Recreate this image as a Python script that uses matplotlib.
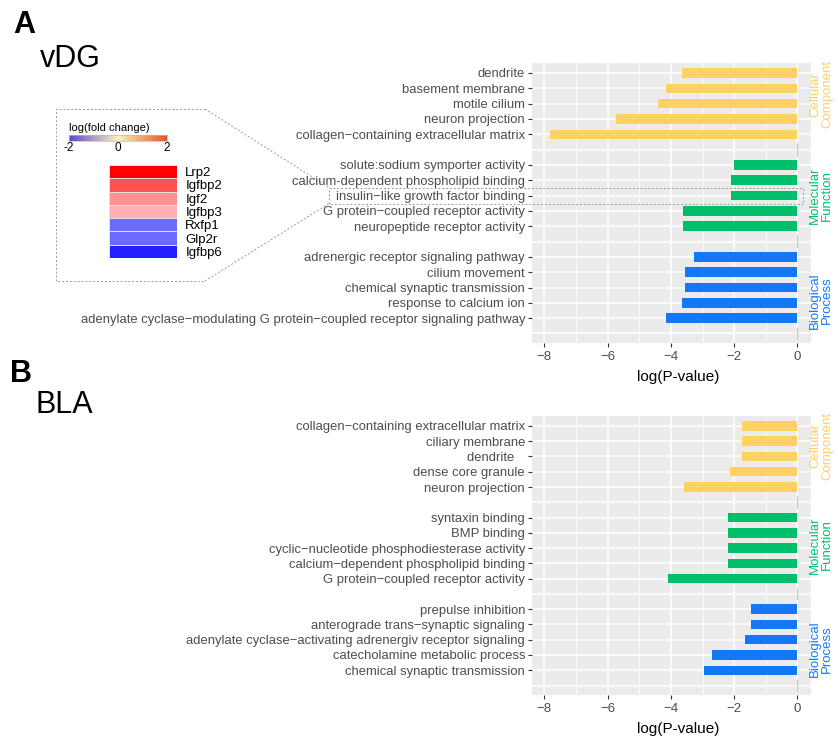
# GO enrichment bars for vDG and BLA, with fold-change inset
import matplotlib.pyplot as plt
import numpy as np
from matplotlib.colors import LinearSegmentedColormap
from matplotlib.lines import Line2D

plt.rcParams['font.family'] = ['Liberation Sans', 'DejaVu Sans']

# data
groups = ["Cellular\nComponent", "Molecular\nFunction", "Biological\nProcess"]
group_colors = ["#FFD062", "#00BF6A", "#1677F6"]

vdg_terms = [
    ["dendrite", "basement membrane", "motile cilium", "neuron projection",
     "collagen\u2212containing extracellular matrix"],
    ["solute:sodium symporter activity", "calcium-dependent phospholipid binding",
     "insulin\u2212like growth factor binding", "G protein\u2212coupled receptor activity",
     "neuropeptide receptor activity"],
    ["adrenergic receptor signaling pathway", "cilium movement",
     "chemical synaptic transmission", "response to calcium ion",
     "adenylate cyclase\u2212modulating G protein\u2212coupled receptor signaling pathway"],
]
vdg_logp = [
    [-3.65, -4.15, -4.40, -5.73, -7.82],
    [-2.00, -2.10, -2.10, -3.61, -3.61],
    [-3.27, -3.55, -3.55, -3.65, -4.15],
]

bla_terms = [
    ["collagen\u2212containing extracellular matrix", "ciliary membrane", "dendrite   ",
     "dense core granule", "neuron projection"],
    ["syntaxin binding", "BMP binding", "cyclic\u2212nucleotide phosphodiesterase activity",
     "calcium\u2212dependent phospholipid binding", "G protein\u2212coupled receptor activity"],
    ["prepulse inhibition", "anterograde trans\u2212synaptic signaling",
     "adenylate cyclase\u2212activating adrenergiv receptor signaling",
     "catecholamine metabolic process", "chemical synaptic transmission"],
]
bla_logp = [
    [-1.75, -1.75, -1.75, -2.13, -3.58],
    [-2.19, -2.19, -2.19, -2.19, -4.09],
    [-1.46, -1.46, -1.65, -2.70, -2.95],
]

genes = ["Lrp2", "Igfbp2", "Igf2", "Igfbp3", "Rxfp1", "Glp2r", "Igfbp6"]
gene_lfc = [2.0, 1.35, 0.87, 0.62, -1.16, -1.16, -1.75]

W, H = 838, 739
fig = plt.figure(figsize=(W / 100, H / 100), dpi=100)


def box(x0, y0, x1, y1):
    # pixel box (top-left origin) -> figure fraction rect
    return [x0 / W, 1 - y1 / H, (x1 - x0) / W, (y1 - y0) / H]


def panel(rect, terms, vals, strip_rows):
    ax = fig.add_axes(rect)
    ax.set_facecolor("#EBEBEB")
    ypos, labels = [], []
    for g in range(3):
        for i in range(5):
            ypos.append(g * 6 + i)
            labels.append(terms[g][i])
            ax.barh(g * 6 + i, vals[g][i], height=0.62, color=group_colors[g], zorder=3)
    blanks = [5, 11, 17]
    ax.vlines([0] * 3, [b - 0.4 for b in blanks], [b + 0.4 for b in blanks],
              color="#C8C8C8", lw=1, zorder=3)
    for r in range(18):
        ax.axhline(r, color="white", lw=1.1, zorder=1)
    for x in [-7, -5, -3, -1]:
        ax.axvline(x, color="white", lw=0.55, zorder=1)
    for x in [-8, -6, -4, -2, 0]:
        ax.axvline(x, color="white", lw=1.1, zorder=1)
    ax.set_xlim(-8.39, 0.43)
    ax.set_ylim(17.62, -0.65)
    ax.set_yticks(ypos)
    ax.set_yticklabels(labels)
    ax.set_xticks([-8, -6, -4, -2, 0])
    ax.tick_params(axis="both", colors="#333333", length=3, width=0.8,
                   labelcolor="#4D4D4D", labelsize=9.4, pad=2)
    ax.tick_params(axis="x", labelsize=9.5, pad=3)
    for s in ax.spines.values():
        s.set_visible(False)
    ax.set_xlabel("log(P-value)", fontsize=11, color="black", labelpad=3)
    ax.xaxis.set_label_coords(0.525, -0.095)
    # facet strip labels on the right
    for g in range(3):
        yy = ax.transData.transform((0, strip_rows[g]))[1]
        fig.text(821 / W, yy / fig.bbox.height, groups[g], rotation=90,
                 ha="center", va="center", multialignment="center",
                 color=group_colors[g], fontsize=9.5, linespacing=1.0)
    return ax


axA = panel(box(532, 63, 811, 343), vdg_terms, vdg_logp, [1.4, 8.0, 14.85])
axB = panel(box(532, 416, 811, 695), bla_terms, bla_logp, [1.3, 7.8, 14.6])

# panel titles
fig.text(13 / W, 1 - 33 / H, "A", fontsize=22, fontweight="bold", va="baseline")
fig.text(40 / W, 1 - 67 / H, "vDG", fontsize=22, va="baseline")
fig.text(10 / W, 1 - 382 / H, "B", fontsize=22, fontweight="bold", va="baseline")
fig.text(36 / W, 1 - 413 / H, "BLA", fontsize=22, va="baseline")

# colour bar legend
fc_cmap = LinearSegmentedColormap.from_list("fc", ["#6346C7", "#F9F3BC", "#E4572A"])
cax = fig.add_axes(box(69, 135, 167, 141))
cax.imshow(np.linspace(-2, 2, 200)[None, :], aspect="auto", cmap=fc_cmap,
           extent=[-2, 2, 0, 1])
cax.set_yticks([])
cax.set_xticks([-2, 0, 2])
cax.set_xticklabels(["-2", "0", "2"])
cax.tick_params(axis="x", length=0, pad=1, labelsize=8.5)
for s in cax.spines.values():
    s.set_edgecolor("#BBBBBB")
    s.set_linewidth(0.5)
fig.text(69 / W, 1 - 131 / H, "log(fold change)", fontsize=8, va="baseline")

# gene heatmap
hm_cmap = LinearSegmentedColormap.from_list("bwr2", ["#0000FF", "#FFFFFF", "#FF0000"])
hax = fig.add_axes(box(109, 165, 177, 258))
hax.pcolormesh(np.array(gene_lfc)[:, None], cmap=hm_cmap, vmin=-2, vmax=2,
               edgecolors="#E0E0E0", linewidth=0.5)
hax.set_ylim(len(genes), 0)
hax.set_xlim(0, 1)
hax.set_xticks([])
hax.yaxis.tick_right()
hax.set_yticks(np.arange(len(genes)) + 0.5)
hax.set_yticklabels(genes, fontsize=9.5)
hax.tick_params(axis="y", length=0, pad=6)
for s in hax.spines.values():
    s.set_visible(False)

# dashed zoom outline linking inset to the insulin-like growth factor row
row = 8
y_top = fig.bbox.height - axA.transData.transform((0, row - 0.52))[1]
y_bot = fig.bbox.height - axA.transData.transform((0, row + 0.52))[1]
x_right = axA.transData.transform((0.18, 0))[0]
x_left = 329


def dline(xs, ys):
    fig.add_artist(Line2D([x / W for x in xs], [1 - y / H for y in ys],
                          transform=fig.transFigure, color="#9A9A9A", lw=0.7,
                          ls=(0, (2, 2))))


dline([205, 56, 56, 205], [109, 109, 281, 281])
dline([205, x_left], [109, y_top])
dline([205, x_left], [281, y_bot])
dline([x_left, x_right, x_right, x_left, x_left], [y_top, y_top, y_bot, y_bot, y_top])

fig.savefig("out.png", dpi=100)
